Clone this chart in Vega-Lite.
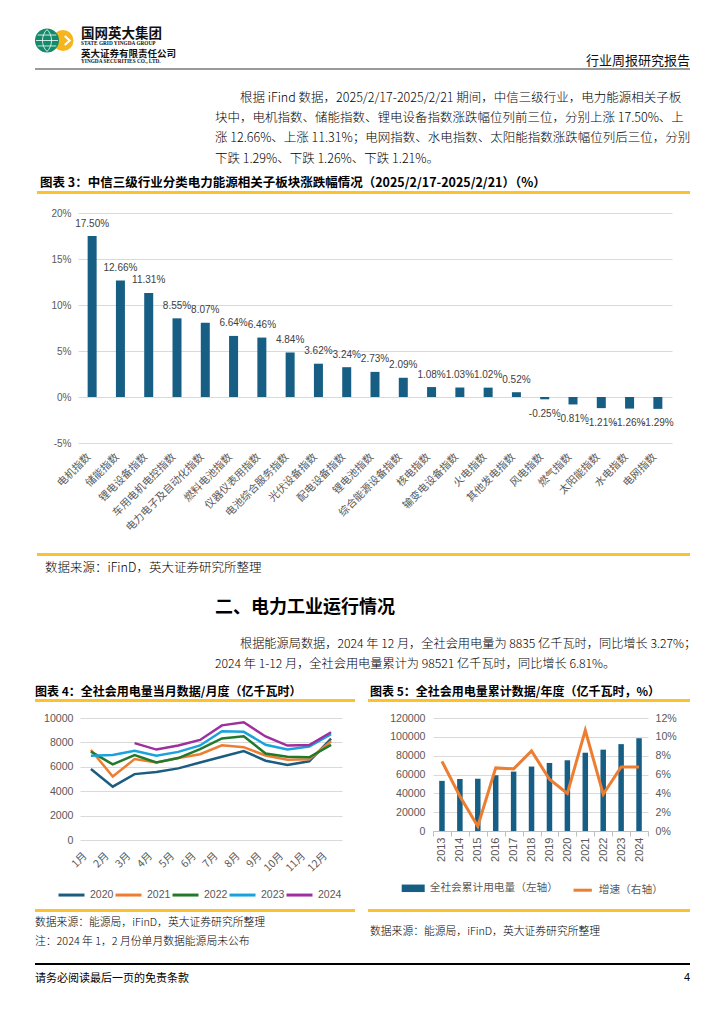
{
"$schema":"https://vega.github.io/schema/vega-lite/v6.json",
"background":"white",
"padding":0,
"columns":1,
"spacing":0,
"bounds":"full",
"align":"each",
"config":{
 "view":{"stroke":null},
 "concat":{"spacing":0},
 "font":"Noto Sans CJK SC",
 "title":{"anchor":"start","frame":"group","font":"Noto Sans CJK SC","color":"#000000","fontWeight":"normal","subtitleColor":"#000000"},
 "axis":{"gridColor":"#d9d9d9","labelColor":"#595959","labelFont":"Liberation Sans","domainColor":"#bfbfbf","tickColor":"#bfbfbf"},
 "legend":{"labelColor":"#595959","labelFont":"Liberation Sans","padding":0},
 "locale":{"number":{"decimal":".","thousands":",","grouping":[3],"currency":["$",""],"minus":"-"}}
},
"concat":[
 {"columns":4,"spacing":0,"bounds":"flush","align":"each","concat":[
  {"width":34,"height":68,"data":{"values":[]},"mark":"point"},
  {"width":30,"height":68,"data":{"values":[{"logo":"国网英大"}]},"layer":[
   {"mark":{"type":"point","shape":"circle","filled":true,"opacity":1,"color":"#F6B51D","size":441,"xOffset":14,"yOffset":6.5}},
   {"mark":{"type":"point","shape":"M-0.5,-1L0.6,0L-0.5,1","filled":false,"opacity":1,"stroke":"#ffffff","strokeWidth":2,"size":80,"xOffset":18,"yOffset":6.5}},
   {"mark":{"type":"point","shape":"circle","filled":true,"opacity":1,"color":"#128A6B","size":576,"xOffset":-2,"yOffset":6.5}},
   {"mark":{"type":"point","shape":"M-1,0H1M0,-1C0.55,-0.5 0.55,0.5 0,1M0,-1C-0.55,-0.5 -0.55,0.5 0,1M-0.85,-0.5H0.85M-0.85,0.5H0.85","filled":false,"opacity":1,"stroke":"#ffffff","strokeWidth":0.8,"size":480,"xOffset":-2,"yOffset":6.5}}
  ]},
  {"width":17,"height":1,"data":{"values":[]},"mark":"point"},
  {"columns":1,"spacing":0,"bounds":"flush","align":"each","concat":[
   {"width":609,"height":47,"data":{"values":[]},"mark":"point","title":{"text":"国网英大集团","subtitle":"STATE GRID YINGDA GROUP","offset":-46.3,"fontSize":13.5,"fontWeight":"bold","color":"#111111","subtitleFont":"Liberation Serif","subtitleFontSize":5.3,"subtitleFontWeight":"bold","subtitleColor":"#111111","subtitlePadding":0.5}},
   {"columns":2,"spacing":0,"bounds":"flush","align":"each","concat":[
    {"width":400,"height":21,"data":{"values":[]},"mark":"point","title":{"text":"英大证券有限责任公司","subtitle":"YINGDA SECURITIES CO., LTD.","offset":-17.7,"fontSize":9.5,"fontWeight":"bold","color":"#111111","subtitleFont":"Liberation Serif","subtitleFontSize":5.3,"subtitleFontWeight":"bold","subtitleColor":"#111111","subtitlePadding":1}},
    {"width":209,"height":21,"data":{"values":[]},"mark":"point","title":{"text":"行业周报研究报告","anchor":"end","offset":-20.7,"fontSize":13,"color":"#111111"}}
   ]}
  ]}
 ]},

 {"columns":2,"spacing":0,"bounds":"flush","align":"each","concat":[
  {"width":35,"height":2,"data":{"values":[]},"mark":"point"},
  {"width":655,"height":2,"data":{"values":[]},"mark":"point","view":{"fill":"#9a9a9a","stroke":null}}
 ]},

 {"columns":4,"spacing":0,"bounds":"flush","align":"each","concat":[
  {"width":37,"height":121,"data":{"values":[]},"mark":"point"},
  {"width":178,"height":121,"data":{"values":[]},"mark":"point","title":{"text":"图表 3：中信三级行业分类电力能源相关子板块涨跌幅情况（2025/2/17-2025/2/21）（%）","offset":-119.9,"dx":3,"fontSize":12.5,"fontWeight":"bold"}},
  {"width":25,"height":121,"data":{"values":[]},"mark":"point","title":{"text":["块中，电机指数、储能指数、锂电设备指数涨跌幅位列前三位，分别上涨 17.50%、上","涨 12.66%、上涨 11.31%；电网指数、水电指数、太阳能指数涨跌幅位列后三位，分别","下跌 1.29%、下跌 1.26%、下跌 1.21%。"],"offset":-95.3,"fontSize":12.5,"fontWeight":300,"lineHeight":20.3}},
  {"width":450,"height":121,"data":{"values":[]},"mark":"point","title":{"text":"根据 iFind 数据，2025/2/17-2025/2/21 期间，中信三级行业，电力能源相关子板","offset":-34.4,"fontSize":12.5,"fontWeight":300}}
 ]},

 {"columns":2,"spacing":0,"bounds":"flush","align":"each","concat":[
  {"width":37,"height":3,"data":{"values":[]},"mark":"point"},
  {"width":653,"height":3,"data":{"values":[]},"mark":"point","view":{"fill":"#FCC22E","stroke":null}}
 ]},

 {"width":1,"height":14,"data":{"values":[]},"mark":"point"},

 {"columns":2,"spacing":0,"bounds":"flush","align":"each","concat":[
  {"width":78,"height":340,"data":{"values":[]},"mark":"point"},
  {"width":594,"height":230,
   "data":{"values":[
    {"name":"电机指数","chg":0.1750},
    {"name":"储能指数","chg":0.1266},
    {"name":"锂电设备指数","chg":0.1131},
    {"name":"车用电机电控指数","chg":0.0855},
    {"name":"电力电子及自动化指数","chg":0.0807},
    {"name":"燃料电池指数","chg":0.0664},
    {"name":"仪器仪表用指数","chg":0.0646},
    {"name":"电池综合服务指数","chg":0.0484},
    {"name":"光伏设备指数","chg":0.0362},
    {"name":"配电设备指数","chg":0.0324},
    {"name":"锂电池指数","chg":0.0273},
    {"name":"综合能源设备指数","chg":0.0209},
    {"name":"核电指数","chg":0.0108},
    {"name":"输变电设备指数","chg":0.0103},
    {"name":"火电指数","chg":0.0102},
    {"name":"其他发电指数","chg":0.0052},
    {"name":"风电指数","chg":-0.0025},
    {"name":"燃气指数","chg":-0.0081},
    {"name":"太阳能指数","chg":-0.0121},
    {"name":"水电指数","chg":-0.0126},
    {"name":"电网指数","chg":-0.0129}
   ]},
   "encoding":{
    "x":{"field":"name","type":"nominal","sort":null,"scale":{"paddingInner":0,"paddingOuter":0},
     "axis":{"title":null,"domain":false,"ticks":false,"grid":false,"labelAngle":-45,"labelAlign":"right","labelBaseline":"middle","labelOffset":-3,"labelPadding":12,"labelFont":"Noto Sans CJK SC","labelFontSize":10.5,"labelColor":"#595959","labelLimit":300}},
    "y":{"field":"chg","type":"quantitative","scale":{"domain":[-0.05,0.2]},
     "axis":{"title":null,"format":"%","values":[-0.05,0,0.05,0.1,0.15,0.2],"domain":false,"ticks":false,"labelPadding":7,"labelFontSize":10,"gridColor":"#d9d9d9"}}
   },
   "layer":[
    {"mark":{"type":"bar","size":9,"color":"#165E83"}},
    {"transform":[{"filter":"datum.chg >= 0"}],"mark":{"type":"text","baseline":"bottom","dy":-7.5,"font":"Liberation Sans","fontSize":10,"color":"#404040"},"encoding":{"text":{"field":"chg","type":"quantitative","format":".2%"}}},
    {"transform":[{"filter":"datum.chg < 0"}],"mark":{"type":"text","baseline":"top","dy":9.4,"font":"Liberation Sans","fontSize":10,"color":"#404040"},"encoding":{"text":{"field":"chg","type":"quantitative","format":".2%"}}}
   ]
  }
 ]},

 {"columns":2,"spacing":0,"bounds":"flush","align":"each","concat":[
  {"width":37,"height":3,"data":{"values":[]},"mark":"point"},
  {"width":653,"height":3,"data":{"values":[]},"mark":"point","view":{"fill":"#FCC22E","stroke":null}}
 ]},

 {"columns":3,"spacing":0,"bounds":"flush","align":"each","concat":[
  {"width":45,"height":64,"data":{"values":[]},"mark":"point"},
  {"width":170,"height":64,"data":{"values":[]},"mark":"point","title":{"text":"数据来源：iFinD，英大证券研究所整理","offset":-18.4,"fontSize":12.5,"fontWeight":300}},
  {"width":475,"height":64,"data":{"values":[]},"mark":"point","title":{"text":"二、电力工业运行情况","offset":-60.6,"fontSize":18,"fontWeight":"bold"}}
 ]},

 {"columns":5,"spacing":0,"bounds":"flush","align":"each","concat":[
  {"width":35,"height":79,"data":{"values":[]},"mark":"point"},
  {"width":180,"height":79,"data":{"values":[]},"mark":"point","title":{"text":"图表 4：全社会用电量当月数据/月度（亿千瓦时）","offset":-78.8,"fontSize":12,"fontWeight":"bold"}},
  {"width":25,"height":79,"data":{"values":[]},"mark":"point","title":{"text":"2024 年 1-12 月，全社会用电量累计为 98521 亿千瓦时，同比增长 6.81%。","offset":-50.2,"fontSize":12.2,"fontWeight":300}},
  {"width":128,"height":79,"data":{"values":[]},"mark":"point","title":{"text":"根据能源局数据，2024 年 12 月，全社会用电量为 8835 亿千瓦时，同比增长 3.27%；","offset":-30.2,"fontSize":12.2,"fontWeight":300}},
  {"width":322,"height":79,"data":{"values":[]},"mark":"point","title":{"text":"图表 5：全社会用电量累计数据/年度（亿千瓦时，%）","offset":-78.8,"dx":2,"fontSize":12,"fontWeight":"bold"}}
 ]},

 {"columns":4,"spacing":0,"bounds":"flush","align":"each","concat":[
  {"width":35,"height":3,"data":{"values":[]},"mark":"point"},
  {"width":320,"height":3,"data":{"values":[]},"mark":"point","view":{"fill":"#FCC22E","stroke":null}},
  {"width":13,"height":1,"data":{"values":[]},"mark":"point"},
  {"width":322,"height":3,"data":{"values":[]},"mark":"point","view":{"fill":"#FCC22E","stroke":null}}
 ]},

 {"width":1,"height":11,"data":{"values":[]},"mark":"point"},

 {"columns":4,"spacing":0,"bounds":"flush","align":"each","concat":[
  {"width":80,"height":191,"data":{"values":[]},"mark":"point"},
  {"width":262,"height":122,
   "data":{"values":[
    {"m":"1月","year":"2020","v":5820},{"m":"2月","year":"2020","v":4370},{"m":"3月","year":"2020","v":5402},{"m":"4月","year":"2020","v":5572},{"m":"5月","year":"2020","v":5872},{"m":"6月","year":"2020","v":6350},{"m":"7月","year":"2020","v":6824},{"m":"8月","year":"2020","v":7294},{"m":"9月","year":"2020","v":6500},{"m":"10月","year":"2020","v":6150},{"m":"11月","year":"2020","v":6450},{"m":"12月","year":"2020","v":8300},
    {"m":"1月","year":"2021","v":7380},{"m":"2月","year":"2021","v":5200},{"m":"3月","year":"2021","v":6631},{"m":"4月","year":"2021","v":6361},{"m":"5月","year":"2021","v":6724},{"m":"6月","year":"2021","v":7033},{"m":"7月","year":"2021","v":7758},{"m":"8月","year":"2021","v":7607},{"m":"9月","year":"2021","v":6929},{"m":"10月","year":"2021","v":6580},{"m":"11月","year":"2021","v":6620},{"m":"12月","year":"2021","v":8100},
    {"m":"1月","year":"2022","v":7240},{"m":"2月","year":"2022","v":6200},{"m":"3月","year":"2022","v":6965},{"m":"4月","year":"2022","v":6362},{"m":"5月","year":"2022","v":6716},{"m":"6月","year":"2022","v":7451},{"m":"7月","year":"2022","v":8324},{"m":"8月","year":"2022","v":8500},{"m":"9月","year":"2022","v":7092},{"m":"10月","year":"2022","v":6830},{"m":"11月","year":"2022","v":6780},{"m":"12月","year":"2022","v":7800},
    {"m":"1月","year":"2023","v":6900},{"m":"2月","year":"2023","v":6960},{"m":"3月","year":"2023","v":7322},{"m":"4月","year":"2023","v":6901},{"m":"5月","year":"2023","v":7222},{"m":"6月","year":"2023","v":7751},{"m":"7月","year":"2023","v":8921},{"m":"8月","year":"2023","v":8864},{"m":"9月","year":"2023","v":7811},{"m":"10月","year":"2023","v":7419},{"m":"11月","year":"2023","v":7660},{"m":"12月","year":"2023","v":8670},
    {"m":"3月","year":"2024","v":7941},{"m":"4月","year":"2024","v":7412},{"m":"5月","year":"2024","v":7751},{"m":"6月","year":"2024","v":8201},{"m":"7月","year":"2024","v":9396},{"m":"8月","year":"2024","v":9649},{"m":"9月","year":"2024","v":8484},{"m":"10月","year":"2024","v":7742},{"m":"11月","year":"2024","v":7788},{"m":"12月","year":"2024","v":8835}
   ]},
   "mark":{"type":"line","strokeWidth":2.5},
   "encoding":{
    "x":{"field":"m","type":"ordinal","sort":["1月","2月","3月","4月","5月","6月","7月","8月","9月","10月","11月","12月"],"scale":{"type":"point","padding":0.5},
     "axis":{"title":null,"domain":false,"ticks":false,"grid":false,"labelAngle":-45,"labelAlign":"right","labelBaseline":"middle","labelOffset":-6,"labelPadding":14,"labelFont":"Noto Sans CJK SC","labelFontSize":10.5,"labelColor":"#595959"}},
    "y":{"field":"v","type":"quantitative","scale":{"domain":[0,10000]},
     "axis":{"title":null,"values":[0,2000,4000,6000,8000,10000],"format":"d","domain":false,"ticks":false,"labelPadding":7,"labelFontSize":10.6}},
    "color":{"field":"year","type":"nominal","scale":{"domain":["2020","2021","2022","2023","2024"],"range":["#1B5C80","#ED7D31","#217A2B","#1AA2DC","#9E2F9E"]},
     "legend":{"title":null,"orient":"none","legendX":57,"legendY":880.3,"direction":"horizontal","symbolType":"stroke","symbolSize":676,"symbolStrokeWidth":3,"labelFontSize":10.5,"labelOffset":4,"columnPadding":-6.8,"labelFont":"Liberation Sans","labelColor":"#595959"}}
   }
  },
  {"width":91,"height":1,"data":{"values":[]},"mark":"point"},
  {"width":215,"height":113,
   "data":{"values":[
    {"year":"2013","total":53223,"growth":0.074},
    {"year":"2014","total":55233,"growth":0.037},
    {"year":"2015","total":55500,"growth":0.005},
    {"year":"2016","total":59198,"growth":0.067},
    {"year":"2017","total":63077,"growth":0.066},
    {"year":"2018","total":68449,"growth":0.085},
    {"year":"2019","total":72255,"growth":0.055},
    {"year":"2020","total":75110,"growth":0.040},
    {"year":"2021","total":83128,"growth":0.107},
    {"year":"2022","total":86372,"growth":0.039},
    {"year":"2023","total":92241,"growth":0.068},
    {"year":"2024","total":98521,"growth":0.068}
   ]},
   "encoding":{
    "x":{"field":"year","type":"ordinal","scale":{"paddingInner":0,"paddingOuter":0},
     "axis":{"title":null,"labelAngle":-90,"labelAlign":"right","labelBaseline":"middle","ticks":true,"tickBand":"extent","tickSize":5,"tickColor":"#bfbfbf","domainColor":"#bfbfbf","grid":false,"labelPadding":1,"labelFontSize":11,"labelColor":"#595959"}}
   },
   "layer":[
    {"mark":{"type":"bar","size":5.5},
     "encoding":{
      "y":{"field":"total","type":"quantitative","scale":{"domain":[0,120000]},
       "axis":{"title":null,"values":[0,20000,40000,60000,80000,100000,120000],"format":"d","domain":false,"ticks":false,"labelPadding":8,"labelFontSize":10.6,"gridColor":"#d9d9d9"}},
      "fill":{"datum":"全社会累计用电量（左轴）","type":"nominal","scale":{"range":["#165E83"]},
       "legend":{"title":null,"orient":"none","legendX":401.7,"legendY":876.8,"symbolType":"M-1,-0.326H1V0.326H-1Z","symbolSize":529,"symbolStrokeWidth":0,"labelFont":"Noto Sans CJK SC","labelFontSize":10.7,"labelOffset":5,"labelColor":"#595959"}}
     }},
    {"mark":{"type":"line","strokeWidth":3},
     "encoding":{
      "y":{"field":"growth","type":"quantitative","scale":{"domain":[0,0.12]},
       "axis":{"title":null,"orient":"right","format":"%","values":[0,0.02,0.04,0.06,0.08,0.1,0.12],"domain":false,"ticks":false,"grid":false,"labelPadding":7,"labelFontSize":10.6}},
      "stroke":{"datum":"增速（右轴）","type":"nominal","scale":{"range":["#ED7D31"]},
       "legend":{"title":null,"orient":"none","legendX":571.7,"legendY":879.2,"symbolType":"stroke","symbolSize":335,"symbolStrokeWidth":3,"labelFont":"Noto Sans CJK SC","labelFontSize":10.7,"labelOffset":5,"labelColor":"#595959"}}
     }}
   ],
   "resolve":{"scale":{"y":"independent"}}
  }
 ]},

 {"columns":4,"spacing":0,"bounds":"flush","align":"each","concat":[
  {"width":35,"height":3,"data":{"values":[]},"mark":"point"},
  {"width":320,"height":3,"data":{"values":[]},"mark":"point","view":{"fill":"#FCC22E","stroke":null}},
  {"width":13,"height":1,"data":{"values":[]},"mark":"point"},
  {"width":322,"height":3,"data":{"values":[]},"mark":"point","view":{"fill":"#FCC22E","stroke":null}}
 ]},

 {"columns":3,"spacing":0,"bounds":"flush","align":"each","concat":[
  {"width":35,"height":51,"data":{"values":[]},"mark":"point"},
  {"width":333,"height":51,"data":{"values":[]},"mark":"point","title":{"text":["数据来源：能源局，iFinD，英大证券研究所整理","注：2024 年 1，2 月份单月数据能源局未公布"],"offset":-34.4,"fontSize":10.8,"fontWeight":300,"lineHeight":19}},
  {"width":322,"height":51,"data":{"values":[]},"mark":"point","title":{"text":"数据来源：能源局，iFinD，英大证券研究所整理","offset":-24.4,"dx":2,"fontSize":10.8,"fontWeight":300}}
 ]},

 {"columns":2,"spacing":0,"bounds":"flush","align":"each","concat":[
  {"width":35,"height":2,"data":{"values":[]},"mark":"point"},
  {"width":655,"height":2,"data":{"values":[]},"mark":"point","view":{"fill":"#000000","stroke":null}}
 ]},

 {"columns":3,"spacing":0,"bounds":"flush","align":"each","concat":[
  {"width":35,"height":30,"data":{"values":[]},"mark":"point"},
  {"width":400,"height":30,"data":{"values":[]},"mark":"point","title":{"text":"请务必阅读最后一页的免责条款","offset":-18.5,"fontSize":11}},
  {"width":255,"height":30,"data":{"values":[]},"mark":"point","title":{"text":"4","anchor":"end","offset":-18.3,"fontSize":11,"font":"Liberation Sans"}}
 ]}
]
}
